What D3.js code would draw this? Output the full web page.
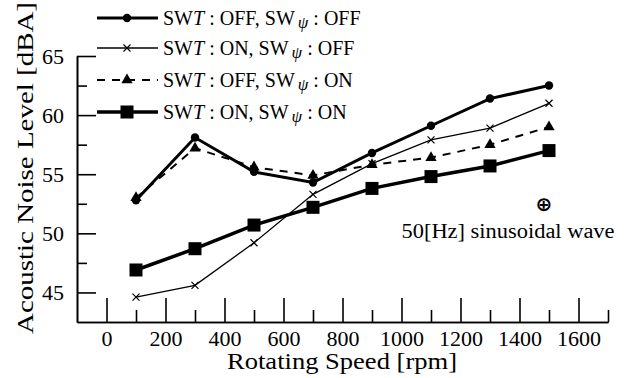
<!DOCTYPE html>
<html>
<head>
<meta charset="utf-8">
<script src="https://cdn.jsdelivr.net/npm/d3@7"></script>
<style>
  body { margin: 0; background: #fff; }
  svg { display: block; }
</style>
</head>
<body>
<svg id="chart" width="631" height="378"></svg>
<script>
// rotating speed [rpm]
const speeds = [100, 300, 500, 700, 900, 1100, 1300, 1500];
// acoustic noise level [dBA]
const offOff = [52.8, 58.1, 55.2, 54.3, 56.8, 59.1, 61.4, 62.5];
const onOff = [44.6, 45.6, 49.2, 53.3, 55.9, 57.9, 58.9, 61.0];
const offOn = [53.0, 57.2, 55.6, 54.9, 55.8, 56.4, 57.5, 59.0];
const onOn = [46.9, 48.7, 50.7, 52.2, 53.8, 54.8, 55.7, 57.0];

const xMajor = [0, 200, 400, 600, 800, 1000, 1200, 1400, 1600];
const xMinor = [100, 300, 500, 700, 900, 1100, 1300, 1500, 1700];
const yMajor = [45, 50, 55, 60, 65];
const yMinor = [47.5, 52.5, 57.5, 62.5];

const seriesList = [
  { t: "OFF", p: "OFF", values: offOff, marker: "circle", width: 3, dash: null },
  { t: "ON", p: "OFF", values: onOff, marker: "cross", width: 1.3, dash: null },
  { t: "OFF", p: "ON", values: offOn, marker: "triangle", width: 2, dash: "8,7" },
  { t: "ON", p: "ON", values: onOn, marker: "square", width: 3.5, dash: null }
];

const svg = d3.select("#chart");

// pick the first serif face that is really installed
function pickSerif() {
  const probe = svg.append("text").style("font-size", "40px").text("Rotating Speed Wave 1400");
  probe.style("font-family", "monospace");
  const base = probe.node().getComputedTextLength();
  const names = ["Liberation Serif", "Times New Roman", "Tinos", "DejaVu Serif", "Noto Serif"];
  let found = "serif";
  for (const n of names) {
    probe.style("font-family", `"${n}", monospace`);
    if (Math.abs(probe.node().getComputedTextLength() - base) > 0.5) { found = `"${n}"`; break; }
  }
  probe.remove();
  return found + ", serif";
}
const serif = pickSerif();
svg.style("font-family", serif);

const x = d3.scaleLinear().domain([-100, 1700]).range([77, 608]);
const y = d3.scaleLinear().domain([42.5, 65]).range([322, 56]);

// axes: ticks point inward
svg.append("g").attr("transform", `translate(0,${y(42.5)})`)
  .call(d3.axisBottom(x).tickValues(xMajor).tickSize(-24).tickSizeOuter(0)
    .tickPadding(8).tickFormat(d3.format("d")));
svg.append("g").attr("transform", `translate(0,${y(42.5)})`)
  .call(d3.axisBottom(x).tickValues(xMinor).tickSize(-12).tickSizeOuter(0).tickFormat(""));

svg.append("g").attr("transform", `translate(${x(-100)},0)`)
  .call(d3.axisLeft(y).tickValues(yMajor).tickSize(-19).tickSizeOuter(0)
    .tickPadding(13).tickFormat(d3.format("d")));
svg.append("g").attr("transform", `translate(${x(-100)},0)`)
  .call(d3.axisLeft(y).tickValues(yMinor).tickSize(-10).tickSizeOuter(0).tickFormat(""));

svg.selectAll("g").attr("font-family", null).attr("font-size", null);
svg.selectAll(".domain, .tick line").attr("stroke", "#000").attr("stroke-width", 1.6);
svg.selectAll(".tick text").attr("fill", "#000").style("font-size", "22px");

// axis titles
svg.append("text")
  .attr("x", 342).attr("y", 369)
  .attr("text-anchor", "middle")
  .attr("textLength", 230).attr("lengthAdjust", "spacingAndGlyphs")
  .style("font-size", "23px")
  .text("Rotating Speed [rpm]");

svg.append("text")
  .attr("transform", "translate(33,168) rotate(-90)")
  .attr("text-anchor", "middle")
  .attr("textLength", 332).attr("lengthAdjust", "spacingAndGlyphs")
  .style("font-size", "24px")
  .text("Acoustic Noise Level [dBA]");

function drawMarker(g, kind, cx, cy) {
  if (kind === "circle") {
    g.append("circle").attr("cx", cx).attr("cy", cy).attr("r", 4.2).attr("fill", "#000");
  } else if (kind === "cross") {
    const s = 3.5;
    g.append("path")
      .attr("d", `M${cx - s},${cy - s}L${cx + s},${cy + s}M${cx - s},${cy + s}L${cx + s},${cy - s}`)
      .attr("stroke", "#000").attr("stroke-width", 1.2);
  } else if (kind === "triangle") {
    g.append("path")
      .attr("d", d3.symbol(d3.symbolTriangle, 55)())
      .attr("transform", `translate(${cx},${cy})`)
      .attr("fill", "#000");
  } else {
    g.append("rect").attr("x", cx - 6.5).attr("y", cy - 6.5)
      .attr("width", 13).attr("height", 13).attr("fill", "#000");
  }
}

const line = d3.line().x(d => x(d[0])).y(d => y(d[1]));
const plot = svg.append("g");
seriesList.forEach(s => {
  const pts = speeds.map((v, i) => [v, s.values[i]]);
  plot.append("path")
    .attr("d", line(pts))
    .attr("fill", "none")
    .attr("stroke", "#000")
    .attr("stroke-width", s.width)
    .attr("stroke-dasharray", s.dash);
  pts.forEach(p => drawMarker(plot, s.marker, x(p[0]), y(p[1])));
});

// legend
const legendRows = [18, 48, 80, 112];
seriesList.forEach((s, i) => {
  const g = svg.append("g").attr("transform", `translate(0,${legendRows[i]})`);
  g.append("line").attr("x1", 97).attr("x2", 158).attr("y1", 0).attr("y2", 0)
    .attr("stroke", "#000").attr("stroke-width", s.width).attr("stroke-dasharray", s.dash);
  drawMarker(g, s.marker, 127, 0);
  const t = g.append("text").attr("x", 163).attr("y", 7).style("font-size", "20px");
  t.append("tspan").text("SW");
  t.append("tspan").style("font-style", "italic").text("T");
  t.append("tspan").text(` : ${s.t}, SW`);
  t.append("tspan").style("font-style", "italic").style("font-size", "17px")
    .attr("dy", 3).attr("dx", 3).text("\u03c8");
  t.append("tspan").attr("dy", -3).text(` : ${s.p}`);
});

// annotation
svg.append("text").attr("x", 544).attr("y", 211).attr("text-anchor", "middle")
  .style("font-size", "20px").style("font-family", "DejaVu Sans").style("font-weight", "bold")
  .text("\u2295");
svg.append("text").attr("x", 508).attr("y", 238).attr("text-anchor", "middle")
  .attr("textLength", 213).attr("lengthAdjust", "spacingAndGlyphs")
  .style("font-size", "20px").text("50[Hz] sinusoidal wave");
</script>
</body>
</html>
